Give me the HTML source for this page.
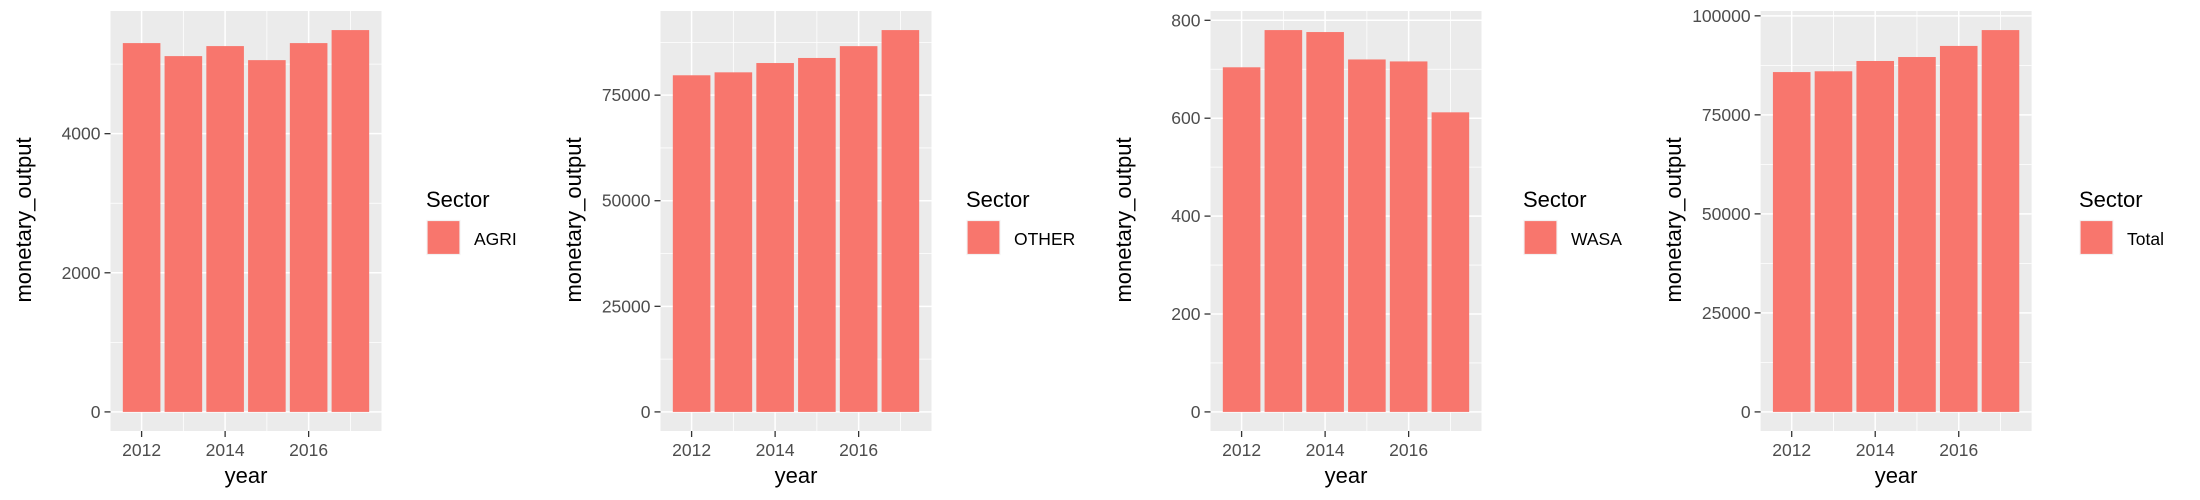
<!DOCTYPE html>
<html><head><meta charset="utf-8"><style>
html,body{margin:0;padding:0;background:#fff;}
svg{display:block;font-family:"Liberation Sans",Arial,sans-serif;}
</style></head><body>
<svg id="chart" width="2200" height="500" viewBox="0 0 2200 500"></svg>
<script>
const years = [2012, 2013, 2014, 2015, 2016, 2017];
const sectors = ["AGRI", "OTHER", "WASA", "Total"];
const agriValues = [5302, 5115, 5259, 5057, 5302, 5489];
const otherValues = [79700, 80400, 82600, 83800, 86600, 90400];
const wasaValues = [704, 780, 776, 720, 716, 612];
const totalValues = [85800, 86000, 88600, 89600, 92400, 96400];
const agriTicks = [0, 2000, 4000];
const otherTicks = [0, 25000, 50000, 75000];
const wasaTicks = [0, 200, 400, 600, 800];
const totalTicks = [0, 25000, 50000, 75000, 100000];
const xTicks = [2012, 2014, 2016];

const NS = "http://www.w3.org/2000/svg";
const svg = document.getElementById("chart");
function mk(tag, attrs, parent) {
  const e = document.createElementNS(NS, tag);
  for (const k in attrs) e.setAttribute(k, attrs[k]);
  (parent || svg).appendChild(e);
  return e;
}

const panels = [
  {L: 110.5, values: agriValues, ticks: agriTicks, ytx: 31, leg: 426, name: "agri"},
  {L: 660.5, values: otherValues, ticks: otherTicks, ytx: 581, leg: 966, name: "other"},
  {L: 1210.5, values: wasaValues, ticks: wasaTicks, ytx: 1131, leg: 1523, name: "wasa"},
  {L: 1760.6, values: totalValues, ticks: totalTicks, ytx: 1681, leg: 2079, name: "total"}
];

panels.forEach((p, pi) => {
  const g = mk("g", {});
  
  
  const L = p.L, W = 271, T = 11, B = 431;
  const maxV = Math.max(...p.values);
  const yMin = -0.05 * maxV, yMax = 1.05 * maxV;
  const y = v => B - (v - yMin) / (yMax - yMin) * (B - T);
  const x0 = years[0] - 0.45, x1 = years[years.length - 1] + 0.45;
  const ex = (x1 - x0) * 0.05;
  const xs = v => L + (v - (x0 - ex)) / ((x1 + ex) - (x0 - ex)) * W;

  const bg = mk("rect", {x: L, y: T, width: W, height: B - T, fill: "#EBEBEB"}, g);
  
  

  const step = p.ticks[1] - p.ticks[0];
  for (let v = p.ticks[0] - step / 2; v <= yMax; v += step) {
    if (v < yMin) continue;
    const ln = mk("line", {x1: L, x2: L + W, y1: y(v), y2: y(v), stroke: "#fff", "stroke-width": 0.8}, g);
    
    
  }
  for (let v = xTicks[0] - 1; v <= x1 + ex; v += 2) {
    if (v < x0 - ex) continue;
    const ln = mk("line", {x1: xs(v), x2: xs(v), y1: T, y2: B, stroke: "#fff", "stroke-width": 0.8}, g);
    
    
  }
  p.ticks.forEach(v => {
    const ln = mk("line", {x1: L, x2: L + W, y1: y(v), y2: y(v), stroke: "#fff", "stroke-width": 1.5}, g);
    
    
    const tk = mk("line", {x1: L - 6, x2: L, y1: y(v), y2: y(v), stroke: "#333", "stroke-width": 1.3}, g);
    
    
    const t = mk("text", {x: L - 10, y: y(v) + 6, "text-anchor": "end", "font-size": 17.5, fill: "#4D4D4D"}, g);
    t.textContent = v;
    
    
  });
  xTicks.forEach(v => {
    const ln = mk("line", {x1: xs(v), x2: xs(v), y1: T, y2: B, stroke: "#fff", "stroke-width": 1.5}, g);
    
    
    const tk = mk("line", {x1: xs(v), x2: xs(v), y1: B, y2: B + 6, stroke: "#333", "stroke-width": 1.3}, g);
    
    
    const t = mk("text", {x: xs(v), y: 456, "text-anchor": "middle", "font-size": 17.5, fill: "#4D4D4D"}, g);
    t.textContent = v;
    
    
  });
  const bw = 0.9 * (xs(1) - xs(0));
  p.values.forEach((v, i) => {
    const r = mk("rect", {x: xs(years[i]) - bw / 2, y: y(v), width: bw, height: y(0) - y(v), fill: "#F8766D"}, g);
    
    
  });
  const xt = mk("text", {x: L + W / 2, y: 483, "text-anchor": "middle", "font-size": 22, fill: "#000"}, g);
  xt.textContent = "year";
  
  
  const yt = mk("text", {x: 0, y: 0, "text-anchor": "middle", "font-size": 22, fill: "#000", transform: "translate(" + p.ytx + ",220) rotate(-90)"}, g);
  yt.textContent = "monetary_output";
  
  

  const lt = mk("text", {x: p.leg, y: 207, "font-size": 22, fill: "#000"}, g);
  lt.textContent = "Sector";
  
  
  const lk = mk("rect", {x: p.leg + 1, y: 220.5, width: 33, height: 34, fill: "#F8766D", stroke: "#F2F2F2", "stroke-width": 1.2}, g);
  
  
  const ll = mk("text", {x: p.leg + 48, y: 245, "font-size": 17.5, fill: "#000"}, g);
  ll.textContent = sectors[pi];
  
  
});
</script>
</body></html>
